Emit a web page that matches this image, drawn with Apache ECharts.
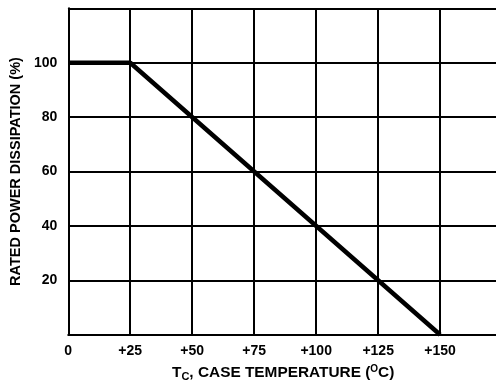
<!DOCTYPE html>
<html>
<head>
<meta charset="utf-8">
<script src="https://cdn.jsdelivr.net/npm/echarts@6/dist/echarts.min.js"></script>
<style>
html,body{margin:0;padding:0;background:#fff;overflow:hidden;}
#chart{width:520px;height:382px;}
</style>
</head>
<body>
<div id="chart"></div>
<script>
// Data
var caseTemp = [0, 25, 150];          // °C
var ratedPower = [100, 100, 0];       // %
var xTickValues = [0, 25, 50, 75, 100, 125, 150];
var xTickLabels = ['0', '+25', '+50', '+75', '+100', '+125', '+150'];
var yTickValues = [20, 40, 60, 80, 100];
var yTickLabels = ['20', '40', '60', '80', '100'];

var FONT = '"Liberation Sans", Arial, Helvetica, sans-serif';
var chart = echarts.init(document.getElementById('chart'), null, {renderer: 'canvas'});

var pts = caseTemp.map(function (t, i) { return [t, ratedPower[i]]; });

chart.setOption({
  animation: false,
  backgroundColor: '#fff',
  title: {
    left: 172,
    top: 364,
    padding: 0,
    text: '{a|T}{sub|C}{a|, CASE TEMPERATURE (}{sup|O}{a|C)}',
    textStyle: {
      rich: {
        a: {fontSize: 15.4, fontWeight: 'bold', fontFamily: FONT, color: '#000', lineHeight: 18, verticalAlign: 'middle'},
        sub: {fontSize: 11, fontWeight: 'bold', fontFamily: FONT, color: '#000', lineHeight: 10, verticalAlign: 'bottom'},
        sup: {fontSize: 10, fontWeight: 'bold', fontFamily: FONT, color: '#000', lineHeight: 10, verticalAlign: 'top'}
      }
    }
  },
  grid: {left: 67.5, top: 8.3, width: 447, height: 326.4, containLabel: false},
  xAxis: {
    type: 'value',
    min: 0, max: 180, interval: 25,
    axisLine: {show: true, lineStyle: {color: '#000', width: 2}},
    axisTick: {show: false},
    splitLine: {show: true, lineStyle: {color: '#000', width: 2}},
    axisLabel: {
      margin: 9,
      fontSize: 14, fontWeight: 'bold', fontFamily: FONT, color: '#000',
      formatter: function (v) {
        var i = xTickValues.indexOf(v);
        return i >= 0 ? xTickLabels[i] : '';
      }
    }
  },
  yAxis: {
    type: 'value',
    min: 0, max: 120, interval: 20,
    name: 'RATED POWER DISSIPATION (%)',
    nameLocation: 'middle',
    nameGap: 44,
    nameTextStyle: {fontSize: 14.5, fontWeight: 'bold', fontFamily: FONT, color: '#000'},
    axisLine: {show: true, lineStyle: {color: '#000', width: 2}},
    axisTick: {show: false},
    splitLine: {show: true, lineStyle: {color: '#000', width: 2}},
    axisLabel: {
      margin: 11,
      fontSize: 14, fontWeight: 'bold', fontFamily: FONT, color: '#000',
      formatter: function (v) {
        var i = yTickValues.indexOf(v);
        return i >= 0 ? yTickLabels[i] : '';
      }
    }
  },
  series: [{
    type: 'line',
    data: pts,
    symbol: 'none',
    lineStyle: {color: '#000', width: 4.5},
    z: 5
  }]
});
</script>
</body>
</html>
